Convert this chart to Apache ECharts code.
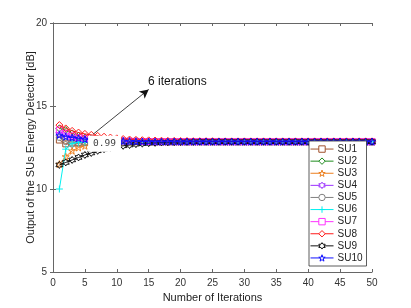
<!DOCTYPE html>
<html><head><meta charset="utf-8">
<script src="https://cdn.jsdelivr.net/npm/echarts@6/dist/echarts.min.js"></script>
<style>html,body{margin:0;padding:0;background:#fff}#c{width:411px;height:308px}</style>
</head><body><div id="c"></div>
<script>
const iterations = [1,2,3,4,5,6,7,8,9,10,11,12,13,14,15,16,17,18,19,20,21,22,23,24,25,26,27,28,29,30,31,32,33,34,35,36,37,38,39,40,41,42,43,44,45,46,47,48,49,50];
const names = ['SU1','SU2','SU3','SU4','SU5','SU6','SU7','SU8','SU9','SU10'];
const SU1 = [12.95,12.72,12.78,12.81,12.83,12.84,12.85,12.85,12.85,12.85,
  12.85,12.85,12.85,12.85,12.85,12.85,12.85,12.85,12.85,12.85,
  12.85,12.85,12.85,12.85,12.85,12.85,12.85,12.85,12.85,12.85,
  12.85,12.85,12.85,12.85,12.85,12.85,12.85,12.85,12.85,12.85,
  12.85,12.85,12.85,12.85,12.85,12.85,12.85,12.85,12.85,12.85];
const SU2 = [13.65,13.55,13.35,13.2,13.1,13.05,13.0,12.96,12.93,12.91,
  12.9,12.89,12.88,12.87,12.86,12.86,12.85,12.85,12.85,12.85,
  12.85,12.85,12.85,12.85,12.85,12.85,12.85,12.85,12.85,12.85,
  12.85,12.85,12.85,12.85,12.85,12.85,12.85,12.85,12.85,12.85,
  12.85,12.85,12.85,12.85,12.85,12.85,12.85,12.85,12.85,12.85];
const SU3 = [11.5,11.95,12.3,12.5,12.6,12.68,12.74,12.78,12.8,12.82,
  12.83,12.84,12.84,12.85,12.85,12.85,12.85,12.85,12.85,12.85,
  12.85,12.85,12.85,12.85,12.85,12.85,12.85,12.85,12.85,12.85,
  12.85,12.85,12.85,12.85,12.85,12.85,12.85,12.85,12.85,12.85,
  12.85,12.85,12.85,12.85,12.85,12.85,12.85,12.85,12.85,12.85];
const SU4 = [13.3,13.2,13.1,13.05,13.0,12.97,12.94,12.92,12.9,12.89,
  12.88,12.87,12.86,12.86,12.85,12.85,12.85,12.85,12.85,12.85,
  12.85,12.85,12.85,12.85,12.85,12.85,12.85,12.85,12.85,12.85,
  12.85,12.85,12.85,12.85,12.85,12.85,12.85,12.85,12.85,12.85,
  12.85,12.85,12.85,12.85,12.85,12.85,12.85,12.85,12.85,12.85];
const SU5 = [13.1,12.85,12.7,12.75,12.79,12.81,12.83,12.84,12.85,12.85,
  12.85,12.85,12.85,12.85,12.85,12.85,12.85,12.85,12.85,12.85,
  12.85,12.85,12.85,12.85,12.85,12.85,12.85,12.85,12.85,12.85,
  12.85,12.85,12.85,12.85,12.85,12.85,12.85,12.85,12.85,12.85,
  12.85,12.85,12.85,12.85,12.85,12.85,12.85,12.85,12.85,12.85];
const SU6 = [10.0,12.4,12.75,12.82,12.84,12.85,12.85,12.85,12.85,12.85,
  12.85,12.85,12.85,12.85,12.85,12.85,12.85,12.85,12.85,12.85,
  12.85,12.85,12.85,12.85,12.85,12.85,12.85,12.85,12.85,12.85,
  12.85,12.85,12.85,12.85,12.85,12.85,12.85,12.85,12.85,12.85,
  12.85,12.85,12.85,12.85,12.85,12.85,12.85,12.85,12.85,12.85];
const SU7 = [13.55,13.35,13.2,13.1,13.05,13.0,12.96,12.93,12.91,12.9,
  12.89,12.88,12.87,12.86,12.86,12.85,12.85,12.85,12.85,12.85,
  12.85,12.85,12.85,12.85,12.85,12.85,12.85,12.85,12.85,12.85,
  12.85,12.85,12.85,12.85,12.85,12.85,12.85,12.85,12.85,12.85,
  12.85,12.85,12.85,12.85,12.85,12.85,12.85,12.85,12.85,12.85];
const SU8 = [13.85,13.65,13.5,13.4,13.32,13.26,13.2,13.15,13.1,13.05,
  13.01,12.98,12.96,12.94,12.93,12.92,12.91,12.9,12.9,12.89,
  12.89,12.88,12.88,12.88,12.88,12.87,12.87,12.87,12.87,12.87,
  12.87,12.87,12.87,12.87,12.87,12.87,12.87,12.87,12.87,12.87,
  12.87,12.87,12.87,12.87,12.87,12.87,12.87,12.87,12.87,12.87];
const SU9 = [11.45,11.6,11.75,11.9,12.05,12.17,12.3,12.4,12.48,12.55,
  12.6,12.65,12.7,12.73,12.76,12.78,12.8,12.81,12.82,12.83,
  12.84,12.84,12.85,12.85,12.85,12.85,12.85,12.85,12.85,12.85,
  12.85,12.85,12.85,12.85,12.85,12.85,12.85,12.85,12.85,12.85,
  12.85,12.85,12.85,12.85,12.85,12.85,12.85,12.85,12.85,12.85];
const SU10 = [13.25,13.15,13.1,13.05,13.0,12.97,12.95,12.93,12.92,12.9,
  12.89,12.88,12.87,12.86,12.86,12.85,12.85,12.85,12.85,12.85,
  12.85,12.85,12.85,12.85,12.85,12.85,12.85,12.85,12.85,12.85,
  12.85,12.85,12.85,12.85,12.85,12.85,12.85,12.85,12.85,12.85,
  12.85,12.85,12.85,12.85,12.85,12.85,12.85,12.85,12.85,12.85];
const xTicks = [0,5,10,15,20,25,30,35,40,45,50];
const yTicks = [5,10,15,20];
const annotationText = '6 iterations';
const datatipText = '0.99';

const allSeries = [SU1,SU2,SU3,SU4,SU5,SU6,SU7,SU8,SU9,SU10];
const colors = ['#a0522d','#1e8c1e','#ec7f1e','#9b30ff','#808080','#00f0f0','#ff33ff','#ff1a1a','#111111','#1010ff'];
const STAR = 'path://M10,0 L12.25,6.91 L19.51,6.91 L13.63,11.18 L15.88,18.09 L10,13.82 L4.12,18.09 L6.37,11.18 L0.49,6.91 L7.75,6.91 Z';
const HEX = 'path://M10,0 L12.89,5 L18.66,5 L15.77,10 L18.66,15 L12.89,15 L10,20 L7.11,15 L1.34,15 L4.23,10 L1.34,5 L7.11,5 Z';
const PLUS = 'path://M5,0 L5,10 M0,5 L10,5';
const symbols = ['rect','diamond',STAR,HEX,'circle',PLUS,'rect','diamond',HEX,STAR];
const sizes = [6,7,7,7,6,7,6,7,7,7];

const FONT = 'Liberation Sans';
const series = allSeries.map((vals, i) => ({
  name: names[i], type: 'line', z: 2 + i * 0.01,
  data: iterations.map((x, k) => [x, vals[k]]),
  symbol: symbols[i], symbolSize: sizes[i], showAllSymbol: true,
  lineStyle: {color: colors[i], width: 1},
  itemStyle: {color: 'rgba(255,255,255,0)', borderColor: colors[i], borderWidth: 1},
  emphasis: {disabled: true}, animation: false
}));
series.push({
  name: 'annot', type: 'line', data: [], z: 10, animation: false,
  markLine: {
    silent: true, symbol: ['none', 'arrow'], symbolSize: [7, 9],
    lineStyle: {color: '#111', width: 0.8, type: 'solid'},
    label: {show: false},
    data: [[{coord: [6.3, 13.3]}, {coord: [15, 16]}]]
  },
  markPoint: {
    silent: true, symbol: 'circle', symbolSize: 0,
    data: [
      {coord: [14.9, 16.45], label: {show: true, position: 'right', distance: 0, formatter: annotationText,
        color: '#111', fontFamily: FONT, fontSize: 12}},
      {coord: [5.5, 12.72], label: {show: true, position: 'right', distance: 0, formatter: datatipText,
        color: '#444', fontFamily: 'DejaVu Sans Mono', fontSize: 9.5, backgroundColor: '#fff', padding: [3, 5, 3, 5]}}
    ]
  }
});

const axisLine = {show: true, lineStyle: {color: '#666', width: 1}};
const chart = echarts.init(document.getElementById('c'), null, {renderer: 'canvas'});
chart.setOption({
  animation: false,
  grid: {left: 53, right: 39, top: 23, bottom: 34},
  legend: {
    data: names, orient: 'vertical', left: 309, top: 141,
    itemWidth: 23, itemHeight: 8, itemGap: 0,
    backgroundColor: '#fff', borderColor: '#333', borderWidth: 0.8, borderRadius: 0,
    padding: [2, 4, 2, 1],
    itemStyle: {color: '#fff', borderWidth: 1},
    lineStyle: {width: 1},
    textStyle: {fontFamily: FONT, fontSize: 10, color: '#222', lineHeight: 12.1, padding: [0, 0, 0, -1]}
  },
  xAxis: [
    {type: 'value', min: xTicks[0], max: xTicks[xTicks.length - 1], interval: 5,
     name: 'Number of Iterations', nameLocation: 'middle', nameGap: 20, nameMoveOverlap: false,
     nameTextStyle: {fontFamily: FONT, fontSize: 11, color: '#222'},
     axisLine, axisTick: {inside: true, length: 3, lineStyle: {color: '#666'}},
     axisLabel: {fontFamily: FONT, fontSize: 10, color: '#333', margin: 6},
     splitLine: {show: false}},
    {type: 'value', position: 'top', min: xTicks[0], max: xTicks[xTicks.length - 1], interval: 5,
     axisLine, axisTick: {inside: true, length: 3, lineStyle: {color: '#666'}},
     axisLabel: {show: false}, splitLine: {show: false}}
  ],
  yAxis: [
    {type: 'value', min: yTicks[0], max: yTicks[yTicks.length - 1], interval: 5,
     name: 'Output of the SUs Energy Detector [dB]', nameLocation: 'middle', nameGap: 17, nameMoveOverlap: false,
     nameTextStyle: {fontFamily: FONT, fontSize: 11, color: '#222'},
     axisLine, axisTick: {inside: true, length: 3, lineStyle: {color: '#666'}},
     axisLabel: {fontFamily: FONT, fontSize: 10, color: '#333', margin: 6},
     splitLine: {show: false}},
    {type: 'value', position: 'right', min: yTicks[0], max: yTicks[yTicks.length - 1], interval: 5,
     axisLine, axisTick: {inside: true, length: 3, lineStyle: {color: '#666'}},
     axisLabel: {show: false}, splitLine: {show: false}}
  ],
  series
});
</script></body></html>
